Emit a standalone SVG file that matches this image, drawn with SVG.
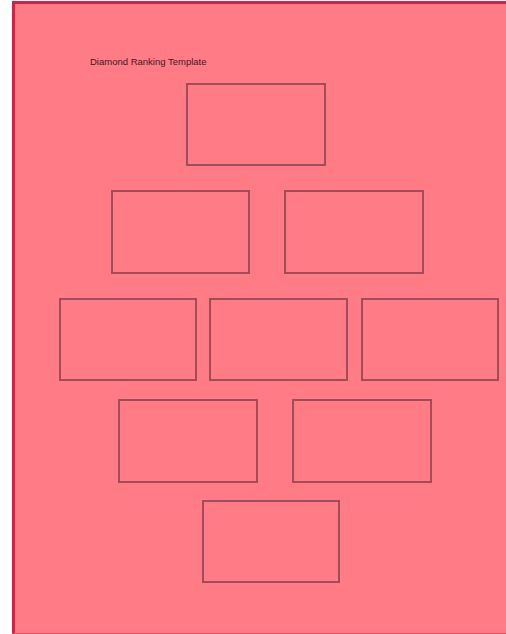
<svg xmlns="http://www.w3.org/2000/svg" width="506" height="634" viewBox="0 0 506 634">
<style>
.box{fill:none;stroke:#8e4650;stroke-width:2;stroke-opacity:0.85}
.title{font-family:"Liberation Sans",Arial,sans-serif;font-size:9.5px;fill:#3a1a1e}
</style>
<rect x="0" y="0" width="506" height="634" fill="#ffffff"/>
<rect x="12" y="1" width="494" height="633" fill="#ff7c87"/>
<path d="M13.5 634 V2.5 H506" fill="none" stroke="#e01c44" stroke-width="3"/>
<line x1="12" y1="633.5" x2="506" y2="633.5" stroke="#e8475e" stroke-width="1"/>
<text class="title" x="90" y="65">Diamond Ranking Template</text>
<g id="r1"><rect class="box" x="187" y="84" width="138" height="81"/></g>
<g id="r2a"><rect class="box" x="112" y="191" width="137" height="82"/></g>
<g id="r2b"><rect class="box" x="285" y="191" width="138" height="82"/></g>
<g id="r3a"><rect class="box" x="60" y="299" width="136" height="81"/></g>
<g id="r3b"><rect class="box" x="210" y="299" width="137" height="81"/></g>
<g id="r3c"><rect class="box" x="362" y="299" width="136" height="81"/></g>
<g id="r4a"><rect class="box" x="119" y="400" width="138" height="82"/></g>
<g id="r4b"><rect class="box" x="293" y="400" width="138" height="82"/></g>
<g id="r5"><rect class="box" x="203" y="501" width="136" height="81"/></g>
<g id="connectors"></g>
</svg>
